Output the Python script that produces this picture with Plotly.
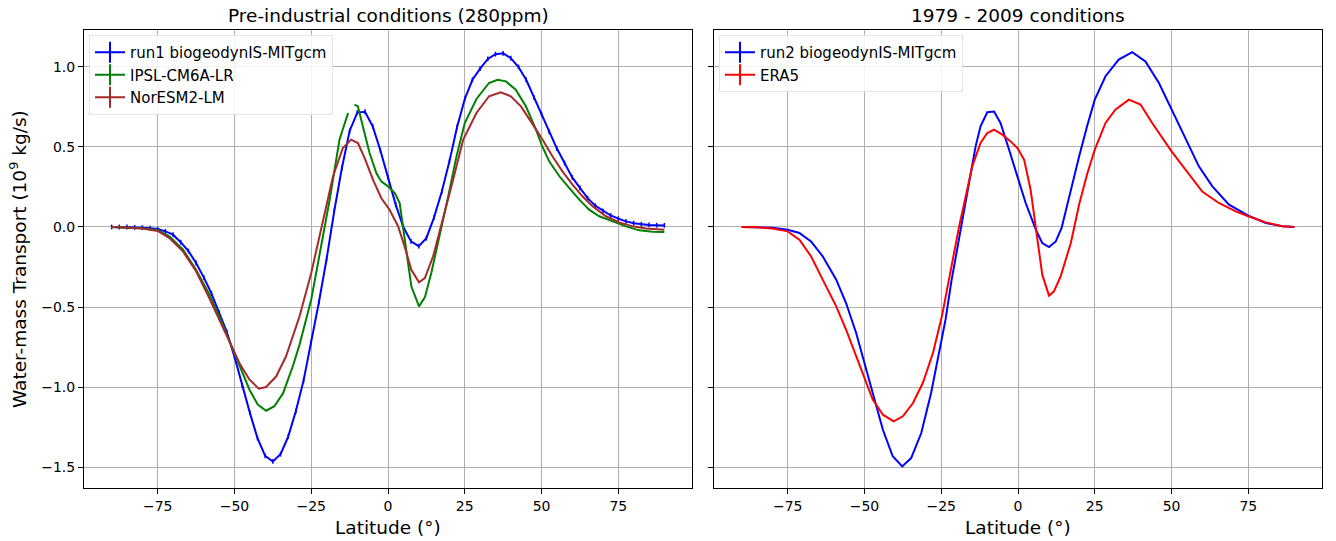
import plotly.graph_objects as go

# ---------------- data ----------------
lat_run1 = [-90, -87.5, -85, -82.5, -80, -77.5, -75, -72.5, -70, -67.5, -65, -62.5, -60, -57.5,
            -55, -52.5, -50, -47.5, -45, -42.5, -40, -37.5, -35, -32.5, -30, -27.5, -25, -22.5,
            -20, -17.5, -15, -12.5, -10, -7.5, -5, -2.5, 0, 2.5, 5, 7.5, 10, 12.5, 15, 17.5, 20,
            22.5, 25, 27.5, 30, 32.5, 35, 37.5, 40, 42.5, 45, 47.5, 50, 52.5, 55, 57.5, 60, 62.5,
            65, 67.5, 70, 72.5, 75, 77.5, 80, 82.5, 85, 87.5, 90]
run1 = [0.0, 0.0, 0.0, -0.002, -0.004, -0.008, -0.013, -0.027, -0.048, -0.095, -0.15, -0.225,
        -0.315, -0.415, -0.535, -0.655, -0.81, -0.99, -1.16, -1.32, -1.43, -1.465, -1.42, -1.31,
        -1.15, -0.96, -0.72, -0.47, -0.2, 0.1, 0.37, 0.6, 0.715, 0.72, 0.63, 0.48, 0.31, 0.14,
        0.0, -0.09, -0.12, -0.07, 0.06, 0.22, 0.41, 0.625, 0.8, 0.92, 0.99, 1.05, 1.08, 1.085,
        1.055, 1.0, 0.92, 0.81, 0.705, 0.595, 0.49, 0.4, 0.31, 0.245, 0.18, 0.133, 0.1, 0.072,
        0.052, 0.035, 0.024, 0.017, 0.013, 0.011, 0.01]
run1_err = [0.015] * len(run1)

lat_ipsl = [-90, -85, -80, -75, -71.2, -66.8, -62.5, -58.2, -54.9, -51.6, -48.4, -45.1, -42.4,
            -39.7, -37, -34.2, -31, -28.8, -25, -22.3, -19, -15.8, -13, -12, -10.9, -9.8, -8.2,
            -6, -3.8, -2.2, 0, 2.2, 3.8, 5.4, 7.6, 10.1, 12, 14.1, 16.8, 19.6, 22.3, 25, 28.8,
            32.9, 35.7, 38.4, 41.6, 44.9, 48.2, 50, 52.5, 55.8, 59, 62.3, 65.5, 68.8, 73.2, 77.5,
            81.8, 86.2, 90]
ipsl = [0.0, -0.002, -0.008, -0.02, -0.058, -0.14, -0.267, -0.42, -0.56, -0.715, -0.86, -1.017,
        -1.11, -1.148, -1.12, -1.04, -0.87, -0.735, -0.454, -0.183, 0.17, 0.546, 0.7125, None,
        0.765, 0.754, 0.63, 0.4625, 0.3375, 0.285, 0.254, 0.2125, 0.15, -0.08, -0.371, -0.496,
        -0.44, -0.2875, -0.058, 0.19, 0.44, 0.65, 0.8, 0.9, 0.92, 0.91, 0.858, 0.754, 0.608,
        0.515, 0.41, 0.317, 0.244, 0.171, 0.108, 0.067, 0.035, 0.004, -0.021, -0.029, -0.031]

lat_nor = [-90, -85, -80, -75, -71.2, -66.8, -62.5, -58.2, -54.9, -51.6, -48.4, -45.1, -42.1,
           -39.7, -36.4, -33.2, -31, -28.8, -25, -21.2, -17.9, -14.7, -12, -9.8, -7.6, -4.9,
           -2.2, 0.5, 3.3, 5.4, 7.6, 10.1, 12, 14.7, 17.9, 21.2, 24.5, 28.8, 32.9, 36.7, 40,
           43.3, 46.5, 50, 53.6, 56.8, 60.1, 63.4, 66.6, 71, 75.3, 79.7, 84, 90]
noresm = [0.0, -0.003, -0.01, -0.025, -0.069, -0.152, -0.277, -0.444, -0.58, -0.725, -0.85,
          -0.954, -1.01, -1.0, -0.933, -0.808, -0.683, -0.558, -0.2875, 0.046, 0.317, 0.494,
          0.546, 0.525, 0.431, 0.296, 0.181, 0.108, 0.004, -0.121, -0.267, -0.346, -0.319,
          -0.183, 0.046, 0.296, 0.546, 0.7125, 0.817, 0.842, 0.817, 0.754, 0.66, 0.556, 0.44,
          0.348, 0.265, 0.19, 0.13, 0.067, 0.029, 0.004, -0.01, -0.017]

lat_run2 = [-90, -85, -80, -75, -71.2, -67.4, -63.6, -59.2, -56, -52.7, -50, -47.3, -44, -40.8,
            -37.7, -34.8, -31.5, -28.3, -24.8, -23.6, -21.7, -18.7, -16.8, -13.8, -12.2, -10,
            -7.8, -5.7, -2.9, -0.2, 2.5, 5.8, 7.9, 10.1, 12.3, 14.2, 17.2, 19.9, 22.5, 25, 28.5,
            32.8, 37.2, 41.5, 45.9, 50, 54.6, 58.9, 63.3, 68.7, 75, 80.7, 86.1, 90]
run2 = [0.0, -0.001, -0.005, -0.0167, -0.0375, -0.09, -0.183, -0.329, -0.475, -0.6625, -0.85,
        -1.0375, -1.267, -1.433, -1.496, -1.444, -1.2875, -1.0375, -0.704, -0.579, -0.34,
        -0.017, 0.18, 0.504, 0.629, 0.717, 0.721, 0.65, 0.483, 0.317, 0.15, -0.017, -0.1,
        -0.125, -0.09, -0.006, 0.233, 0.44, 0.63, 0.796, 0.942, 1.046, 1.092, 1.035, 0.9,
        0.733, 0.546, 0.379, 0.254, 0.14, 0.071, 0.025, 0.004, 0.0]

lat_era5 = [-90, -85, -80, -75, -71.2, -67.4, -63.6, -59.2, -56, -52.7, -50, -47.3, -44, -40.5,
            -37.5, -34.2, -31, -27.7, -24.8, -21.7, -19.2, -14.9, -12.2, -10, -7.8, -5.1, -2.4,
            -0.2, 2.0, 4.1, 5.8, 7.9, 10.1, 11.7, 13.9, 17.2, 19.9, 22.5, 25, 28.5, 31.7, 36.1,
            39.9, 43.7, 50, 54.6, 60, 65.4, 70.9, 75, 80.7, 86.1, 90]
era5 = [0.0, -0.002, -0.009, -0.027, -0.079, -0.183, -0.329, -0.496, -0.642, -0.808, -0.954,
        -1.079, -1.173, -1.215, -1.183, -1.1, -0.975, -0.7875, -0.56, -0.246, 0.0, 0.379,
        0.525, 0.5875, 0.608, 0.577, 0.535, 0.494, 0.42, 0.233, 0.004, -0.298, -0.429, -0.402,
        -0.308, -0.1, 0.14, 0.33, 0.483, 0.65, 0.733, 0.796, 0.765, 0.65, 0.473, 0.358, 0.221,
        0.15, 0.098, 0.067, 0.029, 0.004, 0.0]

x_ticks = [-75, -50, -25, 0, 25, 50, 75]
y_ticks = [-1.5, -1.0, -0.5, 0.0, 0.5, 1.0]

titles = ["Pre-industrial conditions (280ppm)", "1979 - 2009 conditions"]
x_label = "Latitude (°)"
y_label = "Water-mass Transport (10<sup>9</sup> kg/s)"

# ---------------- figure ----------------
W, H = 1336, 541
FONT = "DejaVu Sans"
fig = go.Figure()

def trace(x, y, name, color, xa, ya, err=None):
    kw = {}
    if err is not None:
        kw["error_y"] = dict(type="data", array=err, visible=True, color=color,
                             thickness=1.5, width=0)
    fig.add_trace(go.Scatter(x=x, y=y, mode="lines", name=name, showlegend=False,
                             line=dict(color=color, width=2), xaxis=xa, yaxis=ya,
                             connectgaps=False, **kw))

def legend_entry(name, color, xa, ya, legend):
    fig.add_trace(go.Scatter(x=[None], y=[None], mode="lines+markers", name=name,
                             line=dict(color=color, width=2),
                             marker=dict(symbol="line-ns-open", size=15,
                                         line=dict(color=color, width=2)),
                             xaxis=xa, yaxis=ya, legend=legend))

trace(lat_run1, run1, "run1 biogeodynIS-MITgcm", "blue", "x", "y", run1_err)
trace(lat_ipsl, ipsl, "IPSL-CM6A-LR", "green", "x", "y")
trace(lat_nor, noresm, "NorESM2-LM", "brown", "x", "y")
trace(lat_run2, run2, "run2 biogeodynIS-MITgcm", "blue", "x2", "y2")
trace(lat_era5, era5, "ERA5", "red", "x2", "y2")

legend_entry("run1 biogeodynIS-MITgcm", "blue", "x", "y", "legend")
legend_entry("IPSL-CM6A-LR", "green", "x", "y", "legend")
legend_entry("NorESM2-LM", "brown", "x", "y", "legend")
legend_entry("run2 biogeodynIS-MITgcm", "blue", "x2", "y2", "legend2")
legend_entry("ERA5", "red", "x2", "y2", "legend2")

L1, R1 = 84, 692
L2, R2 = 714, 1322
TOP, BOT = 30, 488
ydom = [1 - BOT / H, 1 - TOP / H]

axis_common = dict(showline=True, linecolor="black", linewidth=1, mirror=True,
                   ticks="outside", ticklen=5, tickwidth=1, tickcolor="black",
                   showgrid=True, gridcolor="#b0b0b0", gridwidth=1, zeroline=False,
                   tickfont=dict(family=FONT, size=14, color="black"))

leg_common = dict(xanchor="left", yanchor="top", bgcolor="rgba(255,255,255,0.85)",
                  bordercolor="#e4e4e4", borderwidth=1, tracegroupgap=0,
                  font=dict(family=FONT, size=15, color="black"))

fig.update_layout(
    width=W, height=H,
    margin=dict(l=0, r=0, t=0, b=0),
    paper_bgcolor="white", plot_bgcolor="white",
    font=dict(family=FONT, color="black"),
    xaxis=dict(domain=[L1 / W, R1 / W], range=[-99, 99], tickvals=x_ticks,
               anchor="y", **axis_common),
    xaxis2=dict(domain=[L2 / W, R2 / W], range=[-99, 99], tickvals=x_ticks,
                anchor="y2", **axis_common),
    yaxis=dict(domain=ydom, range=[-1.631, 1.231], tickvals=y_ticks, tickformat=".1f",
               anchor="x", **axis_common),
    yaxis2=dict(domain=ydom, range=[-1.631, 1.231], tickvals=y_ticks, matches="y",
                showticklabels=False, anchor="x2", **axis_common),
    legend=dict(x=89 / W, y=1 - 35 / H, **leg_common),
    legend2=dict(x=719 / W, y=1 - 35 / H, **leg_common),
    showlegend=True,
)

ann = []
for t, (l, r) in zip(titles, [(L1, R1), (L2, R2)]):
    cx = (l + r) / 2 / W
    ann.append(dict(text=t, x=cx, y=1 - 15 / H, xref="paper", yref="paper",
                    showarrow=False, xanchor="center", yanchor="middle",
                    font=dict(family=FONT, size=18.5, color="black")))
    ann.append(dict(text=x_label, x=cx, y=1 - 527 / H, xref="paper", yref="paper",
                    showarrow=False, xanchor="center", yanchor="middle",
                    font=dict(family=FONT, size=18.5, color="black")))
ann.append(dict(text=y_label, x=18 / W, y=1 - ((TOP + BOT) / 2) / H, xref="paper",
                yref="paper", showarrow=False, textangle=-90, xanchor="center",
                yanchor="middle", font=dict(family=FONT, size=18.5, color="black")))
fig.update_layout(annotations=ann)

fig.write_html("out.html")
